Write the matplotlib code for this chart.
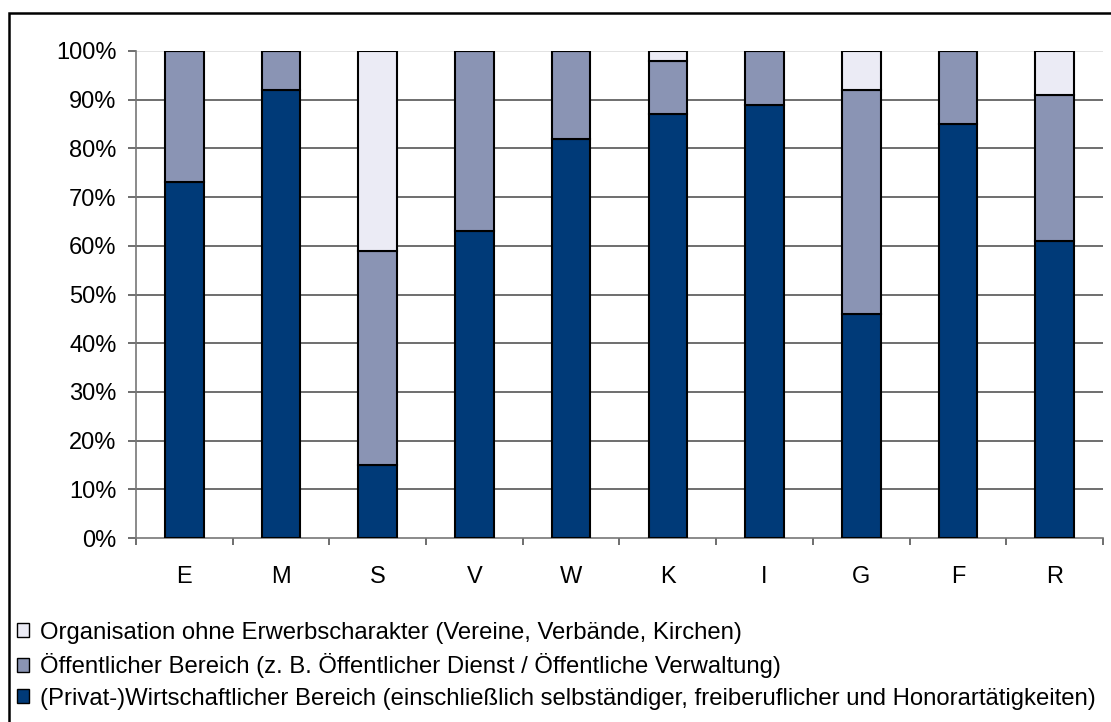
import matplotlib.pyplot as plt
from matplotlib.patches import Patch, Rectangle
from matplotlib.ticker import FixedLocator, PercentFormatter

plt.rcParams['font.family'] = ['Liberation Sans', 'DejaVu Sans']

categories = ['E', 'M', 'S', 'V', 'W', 'K', 'I', 'G', 'F', 'R']
privat = [73, 92, 15, 63, 82, 87, 89, 46, 85, 61]
oeffentlich = [27, 8, 44, 37, 18, 11, 11, 46, 15, 30]
organisation = [0, 0, 41, 0, 0, 2, 0, 8, 0, 9]

labels = [
    '(Privat-)Wirtschaftlicher Bereich (einschließlich selbständiger, freiberuflicher und Honorartätigkeiten)',
    'Öffentlicher Bereich (z. B. Öffentlicher Dienst / Öffentliche Verwaltung)',
    'Organisation ohne Erwerbscharakter (Vereine, Verbände, Kirchen)',
]
colors = ['#003a78', '#8a94b4', '#ebebf5']

fig = plt.figure(figsize=(11.11, 7.22), dpi=100)
ax = fig.add_axes([0.1224, 0.2548, 0.8704, 0.6746])

x = range(len(categories))
bottoms = [0] * len(categories)
for vals, col in zip([privat, oeffentlich, organisation], colors):
    ax.bar(x, vals, width=0.4, bottom=bottoms, color=col, edgecolor='black',
           linewidth=1.5, zorder=3)
    bottoms = [b + v for b, v in zip(bottoms, vals)]

ax.set_ylim(0, 100)
ax.set_xlim(-0.5, len(categories) - 0.5)
ax.set_yticks(range(0, 101, 10))
ax.yaxis.set_major_formatter(PercentFormatter(decimals=0))
for yv in range(10, 100, 10):
    ax.axhline(yv, color='#555555', lw=1.2, zorder=1)
ax.axhline(100, color='#dddddd', lw=1.2, zorder=1)

ax.set_xticks(list(x))
ax.set_xticklabels(categories)
ax.xaxis.set_minor_locator(FixedLocator([i - 0.5 for i in range(len(categories) + 1)]))
ax.tick_params(axis='x', which='major', length=0, pad=20, labelsize=17)
ax.tick_params(axis='x', which='minor', length=5, width=1.2, color='#555555', direction='out')
ax.tick_params(axis='y', length=6, width=1.2, color='#555555', pad=8, labelsize=17)

for side in ['top', 'right']:
    ax.spines[side].set_visible(False)
for side in ['left', 'bottom']:
    ax.spines[side].set_color('#777777')
    ax.spines[side].set_linewidth(1.2)

handles = [Patch(facecolor=c, edgecolor='black', linewidth=1, label=l)
           for c, l in zip(colors, labels)][::-1]
fig.legend(handles=handles, loc='upper left', bbox_to_anchor=(0.0153, 0.139),
           frameon=False, fontsize=17.2, handlelength=0.5, handleheight=0.5,
           handletextpad=0.46, labelspacing=0.4, borderpad=0, borderaxespad=0)

fig.patches.append(Rectangle((0.008, -0.1), 1.1, 1.082, transform=fig.transFigure,
                             fill=False, edgecolor='black', linewidth=1.8))

plt.savefig('out.png', dpi=100)
